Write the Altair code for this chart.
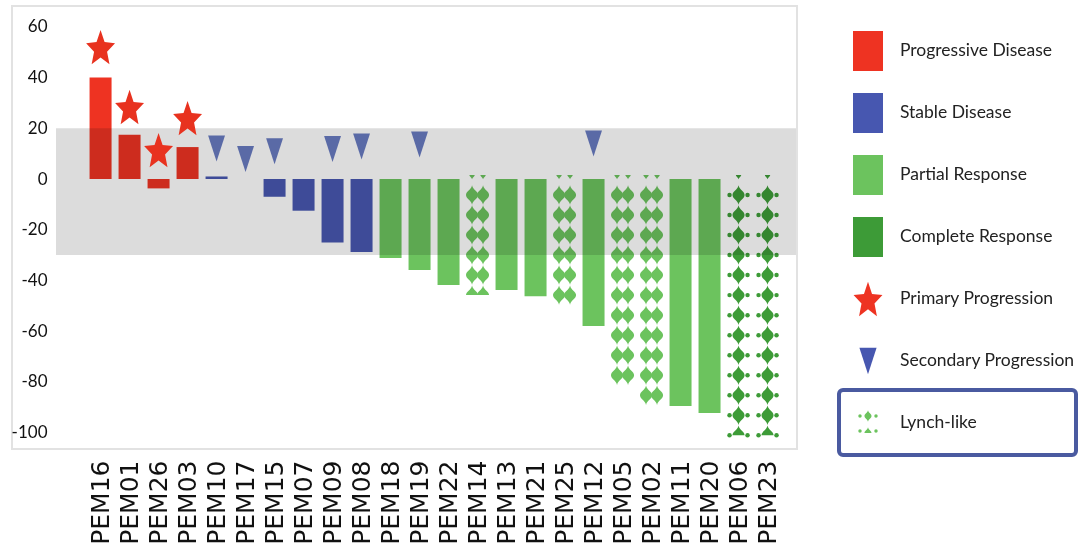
import altair as alt
import pandas as pd

# ---------------- data ----------------
patients = ["PEM16", "PEM01", "PEM26", "PEM03", "PEM10", "PEM17", "PEM15", "PEM07",
            "PEM09", "PEM08", "PEM18", "PEM19", "PEM22", "PEM14", "PEM13", "PEM21",
            "PEM25", "PEM12", "PEM05", "PEM02", "PEM11", "PEM20", "PEM06", "PEM23"]
change = [40, 17.5, -3.7, 12.6, 1, 0, -7, -12.5,
          -25, -28.8, -31.2, -35.9, -41.8, -44.6, -43.8, -46.2,
          -49.7, -58, -78.1, -88, -89.5, -92.3, -100, -100]
response = (["Progressive Disease"] * 4 + ["Stable Disease"] * 6 +
            ["Partial Response"] * 12 + ["Complete Response"] * 2)
lynch_patients = ["PEM14", "PEM25", "PEM05", "PEM02", "PEM06", "PEM23"]
star_patients = ["PEM16", "PEM01", "PEM26", "PEM03"]
star_y = [52, 28.4, 11.4, 24]
tri_patients = ["PEM10", "PEM17", "PEM15", "PEM09", "PEM08", "PEM19", "PEM12"]
tri_y = [12, 7.9, 11, 11.8, 12.8, 13.6, 14]
band_limits = [20, -30]
y_ticks = [-100, -80, -60, -40, -20, 0, 20, 40, 60]
legend_labels = ["Progressive Disease", "Stable Disease", "Partial Response",
                 "Complete Response", "Primary Progression", "Secondary Progression",
                 "Lynch-like"]

# ---------------- styles ----------------
resp_domain = ["Progressive Disease", "Stable Disease", "Partial Response", "Complete Response"]
resp_colors = ["#ee3322", "#4757b0", "#6cc35e", "#3d9b37"]
legend_colors = ["#ea3323", "#5060a8", "#6cc35e", "#3d9b37", "#e8321f", "#5a6aa6", "#3d9b37"]
LFONT = "Lato, Liberation Sans, sans-serif"

STAR = ("M0,-0.905L0.212,-0.269L0.761,-0.214L0.342,0.234L0.47,0.904L0,0.545"
        "L-0.47,0.904L-0.342,0.234L-0.761,-0.214L-0.212,-0.269Z")
TRI = "M-0.65,-1L0.65,-1L0,1Z"
RECT = "M-0.75,-1L0.75,-1L0.75,1L-0.75,1Z"
DIAM = "M0,-1C0.1,-0.5 0.62,-0.4 0.62,0C0.62,0.4 0.1,0.5 0,1C-0.1,0.5 -0.62,0.4 -0.62,0C-0.62,-0.4 -0.1,-0.5 0,-1Z"
CAP = "M0,-1C0.1,-0.5 0.62,-0.4 0.62,0L-0.62,0C-0.62,-0.4 -0.1,-0.5 0,-1Z"
TOP = "M-0.65,-1C-0.65,-0.6 -0.1,-0.5 0,0C0.1,-0.5 0.65,-0.6 0.65,-1Z"

# ---------------- tables ----------------
df = pd.DataFrame({"patient": patients, "change": change, "response": response})
df["lynch"] = df["patient"].isin(lynch_patients)
bars_df = df[~df["lynch"]]

# texture of the Lynch-like bars (rows of diamonds down to each bar's value)
pattern = []
for p, v, r in zip(patients, change, response):
    if p not in lynch_patients:
        continue
    pattern.append({"patient": p, "y": -0.1, "part": "top", "response": r})
    k = 0
    while True:
        yc = -6.3 - 7.9 * k
        if yc >= v + 0.5:
            pattern.append({"patient": p, "y": yc, "part": "full", "response": r})
        elif yc >= v - 2:
            pattern.append({"patient": p, "y": yc, "part": "cap", "response": r})
            break
        else:
            break
        k += 1
pat_df = pd.DataFrame(pattern)

stars_df = pd.DataFrame({"patient": star_patients, "y": star_y})
tri_df = pd.DataFrame({"patient": tri_patients, "y": tri_y})
band_df = pd.DataFrame({"top": [band_limits[0]], "bottom": [band_limits[1]]})

# ---------------- scales ----------------
x_scale = alt.Scale(domain=patients, paddingInner=0.23, paddingOuter=0, range=[77.4, 766.7])
y_scale = alt.Scale(domain=[-106.5, 68.25], nice=False, zero=False)
color_scale = alt.Scale(domain=resp_domain, range=resp_colors)

X = alt.X("patient:N", scale=x_scale, sort=patients, title=None,
          axis=alt.Axis(labelAngle=270, labelAlign="right", labelBaseline="middle",
                        ticks=False, tickSize=0, domain=False, grid=False,
                        labelPadding=11, labelFont="DejaVu Sans", labelFontSize=25,
                        labelColor="#111111"))


def Y(field):
    return alt.Y(field, scale=y_scale, title=None,
                 axis=alt.Axis(values=y_ticks, labelExpr="'' + datum.value",
                               ticks=False, tickSize=0, domain=False, grid=False,
                               labelPadding=0, offset=-35, labelFont=LFONT,
                               labelFontSize=17, labelColor="#111111"))


C = alt.Color("response:N", scale=color_scale, legend=None)

bars = alt.Chart(bars_df).mark_bar(size=22).encode(
    x=X, y=Y("change:Q"), y2=alt.datum(0), color=C)

pat = alt.Chart(pat_df)
pr = pat.transform_filter("datum.response == 'Partial Response'")
cr = pat.transform_filter("datum.response == 'Complete Response'")
tex = []
for off in (-5.5, 5.5):
    tex.append(pr.transform_filter("datum.part == 'full'").mark_point(
        shape=DIAM, size=380, filled=True, opacity=1, strokeWidth=0, xOffset=off).encode(
        x=X, y=Y("y:Q"), color=C))
    tex.append(pr.transform_filter("datum.part == 'cap'").mark_point(
        shape=CAP, size=380, filled=True, opacity=1, strokeWidth=0, xOffset=off).encode(
        x=X, y=Y("y:Q"), color=C))
    tex.append(pr.transform_filter("datum.part == 'top'").mark_point(
        shape=TOP, size=70, filled=True, opacity=1, strokeWidth=0, xOffset=off).encode(
        x=X, y=Y("y:Q"), color=C))
tex.append(cr.transform_filter("datum.part == 'full'").mark_point(
    shape=DIAM, size=380, filled=True, opacity=1, strokeWidth=0).encode(
    x=X, y=Y("y:Q"), color=C))
tex.append(cr.transform_filter("datum.part == 'cap'").mark_point(
    shape=CAP, size=380, filled=True, opacity=1, strokeWidth=0).encode(
    x=X, y=Y("y:Q"), color=C))
tex.append(cr.transform_filter("datum.part == 'top'").mark_point(
    shape=TOP, size=70, filled=True, opacity=1, strokeWidth=0).encode(
    x=X, y=Y("y:Q"), color=C))
for off in (-9, 9):
    tex.append(cr.transform_filter("datum.part != 'top'").mark_point(
        shape="circle", size=20, filled=True, opacity=1, strokeWidth=0, xOffset=off).encode(
        x=X, y=Y("y:Q"), color=C))

band = alt.Chart(band_df).mark_rect(color="#dcdcdc", blend="multiply").encode(
    x=alt.value(44), x2=alt.value(784), y=Y("top:Q"), y2="bottom:Q")

tris = alt.Chart(tri_df).mark_point(shape=TRI, size=676, filled=True, opacity=1,
                                    strokeWidth=0, color="#5a6aa6").encode(
    x=X, y=Y("y:Q"))
stars = alt.Chart(stars_df).mark_point(shape=STAR, size=1444, filled=True, opacity=1,
                                       strokeWidth=0, color="#e8321f").encode(
    x=X, y=Y("y:Q"))

main = alt.layer(bars, *tex, band, tris, stars).properties(
    width=785, height=443,
    view=alt.ViewBackground(stroke="#e2e2e2", strokeWidth=2))

# ---------------- legend panel ----------------
leg_df = pd.DataFrame({"row": list(range(len(legend_labels))), "label": legend_labels})
ly_scale = alt.Scale(domain=[-0.726, 6.419], reverse=True, nice=False, zero=False)
LY = alt.Y("row:Q", scale=ly_scale, axis=None)
LC = alt.Color("label:N", scale=alt.Scale(domain=legend_labels, range=legend_colors), legend=None)
leg = alt.Chart(leg_df)

l_rect = leg.transform_filter("datum.row <= 3").mark_point(
    shape=RECT, size=1600, filled=True, opacity=1, strokeWidth=0).encode(
    x=alt.value(29), y=LY, color=LC)
l_star = leg.transform_filter("datum.row == 4").mark_point(
    shape=STAR, size=1444, filled=True, opacity=1, strokeWidth=0).encode(
    x=alt.value(29), y=LY, color=LC)
l_tri = leg.transform_filter("datum.row == 5").mark_point(
    shape=TRI, size=700, filled=True, opacity=1, strokeWidth=0).encode(
    x=alt.value(29), y=LY, color=LC)
lyn = leg.transform_filter("datum.row == 6")
l_d1 = lyn.mark_point(shape=DIAM, size=130, filled=True, opacity=1, strokeWidth=0,
                      yOffset=-7).encode(x=alt.value(29), y=LY, color=LC)
l_d2 = lyn.mark_point(shape=CAP, size=130, filled=True, opacity=1, strokeWidth=0,
                      yOffset=10).encode(x=alt.value(29), y=LY, color=LC)
dot_layers = []
for xo, yo in ((-8, -7), (8, -7), (-8, 8), (8, 8)):
    dot_layers.append(lyn.mark_point(shape="circle", size=12, filled=True, opacity=1,
                                     strokeWidth=0, xOffset=xo, yOffset=yo).encode(
        x=alt.value(29), y=LY, color=LC))
l_box = lyn.transform_calculate(lo="datum.row - 0.532", hi="datum.row + 0.516").mark_rect(
    fill="#ffffff", fillOpacity=0, stroke="#4a5aa0", strokeWidth=4, cornerRadius=4).encode(
    x=alt.value(0), x2=alt.value(237),
    y=alt.Y("lo:Q", scale=ly_scale, axis=None), y2="hi:Q")
l_text = leg.mark_text(align="left", baseline="middle", font=LFONT, fontSize=17.5,
                       color="#222222").encode(x=alt.value(61), y=LY, text="label:N")

legend_panel = alt.layer(l_rect, l_star, l_tri, l_d1, l_d2, *dot_layers,
                         l_box, l_text).properties(width=237, height=443)

chart = alt.hconcat(main, legend_panel, spacing=39).properties(
    padding={"left": 10, "top": 5, "right": 0, "bottom": 0},
    background="#ffffff",
).configure_view(strokeWidth=0)

chart.save("out.html", embed_options={"renderer": "svg", "actions": False})
